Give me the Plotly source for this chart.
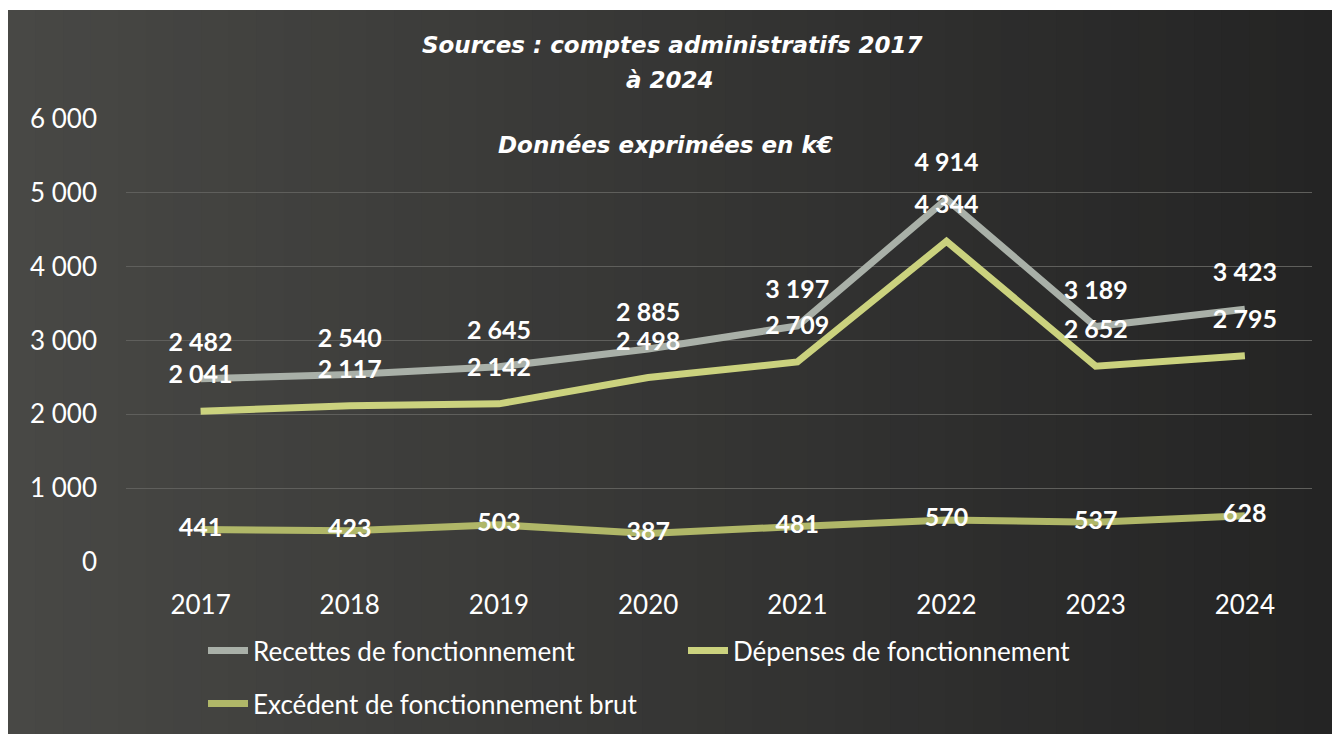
import plotly.graph_objects as go

years = ["2017", "2018", "2019", "2020", "2021", "2022", "2023", "2024"]
recettes = [2482, 2540, 2645, 2885, 3197, 4914, 3189, 3423]
depenses = [2041, 2117, 2142, 2498, 2709, 4344, 2652, 2795]
excedent = [441, 423, 503, 387, 481, 570, 537, 628]

names = ["Recettes de fonctionnement", "Dépenses de fonctionnement",
         "Excédent de fonctionnement brut"]
colors = ["#a9b0a8", "#cbd27e", "#b0b768"]

# page has an 8px body margin; figure coordinates are screen - 8
OFF = 8
W, H = 1334, 726
L, R, T, B = 118, 30, 111, 172
pw, ph = W - L - R, H - T - B


def px(x):  # screen x -> paper x
    return (x - OFF - L) / pw


def py(y):  # screen y -> paper y
    return (H - B - (y - OFF)) / ph


fig = go.Figure()

label_font = dict(family="Lato", size=25, color="white", weight="bold")

fig.add_trace(go.Scatter(
    x=years, y=recettes, name=names[0], mode="lines+markers+text",
    line=dict(color=colors[0], width=7),
    marker=dict(size=33, color="rgba(0,0,0,0)"),
    text=recettes, texttemplate="%{y:,.0f}", textposition="top center",
    textfont=label_font, hoverinfo="skip", legend="legend"))
fig.add_trace(go.Scatter(
    x=years, y=depenses, name=names[1], mode="lines+markers+text",
    line=dict(color=colors[1], width=7),
    marker=dict(size=33, color="rgba(0,0,0,0)"),
    text=depenses, texttemplate="%{y:,.0f}", textposition="top center",
    textfont=label_font, hoverinfo="skip", legend="legend2"))
fig.add_trace(go.Scatter(
    x=years, y=excedent, name=names[2], mode="lines+text",
    line=dict(color=colors[2], width=7),
    text=excedent, texttemplate="%{y:,.0f}", textposition="middle center",
    textfont=label_font, hoverinfo="skip", legend="legend3"))

# background: dark horizontal gradient inside a thin white border
shapes = []
x0s, x1s = 8, 1332
n = 48
start = (72, 72, 69)
end = (36, 36, 36)
for i in range(n):
    a = x0s + (x1s - x0s) * i / n
    b = min(x0s + (x1s - x0s) * (i + 1) / n + 1, x1s)
    t = i / (n - 1)
    c = tuple(round(start[k] + (end[k] - start[k]) * t) for k in range(3))
    shapes.append(dict(type="rect", xref="paper", yref="paper",
                       x0=px(a), x1=px(b), y0=py(OFF + H + 10), y1=py(10),
                       fillcolor="rgb(%d,%d,%d)" % c, line=dict(width=0),
                       layer="below"))

title_font = dict(family="DejaVu Sans", size=23, color="white",
                  style="italic", weight="bold")


def title(text, x, y):
    return dict(text=text, x=px(x), y=py(y), xref="paper", yref="paper",
                xanchor="center", yanchor="middle", showarrow=False,
                font=title_font)


annotations = [
    title("Sources : comptes administratifs 2017", 672, 45),
    title("à 2024", 670, 80),
    title("Données exprimées en k€", 665, 145),
]

leg_font = dict(family="Lato", size=26, color="white")


def leg(x_text, y_center):
    return dict(orientation="h", x=px(x_text - 50), y=py(y_center - 23),
                xanchor="left", yanchor="top", font=leg_font,
                bgcolor="rgba(0,0,0,0)", itemwidth=40)


tick_font = dict(family="Lato", size=26, color="white")

fig.update_layout(
    width=W, height=H,
    margin=dict(l=L, r=R, t=T, b=B, pad=0, autoexpand=False),
    paper_bgcolor="white",
    plot_bgcolor="rgba(0,0,0,0)",
    separators=", ",
    shapes=shapes,
    annotations=annotations,
    showlegend=True,
    legend=leg(253, 650),
    legend2=leg(733, 650),
    legend3=leg(253, 703),
    xaxis=dict(showgrid=False, zeroline=False, showline=False,
               range=[-0.5, 7.45], tickfont=tick_font,
               ticks="", ticklabelstandoff=25),
    yaxis=dict(range=[0, 6000], tickvals=[0, 1000, 2000, 3000, 4000, 5000, 6000],
               tickformat=",.0f", showgrid=True, gridcolor="#5f5f5c", gridwidth=1,
               zeroline=False, showline=False, tickfont=tick_font,
               ticks="", ticklabelstandoff=28),
    hovermode=False,
)

fig.write_html("out.html")
